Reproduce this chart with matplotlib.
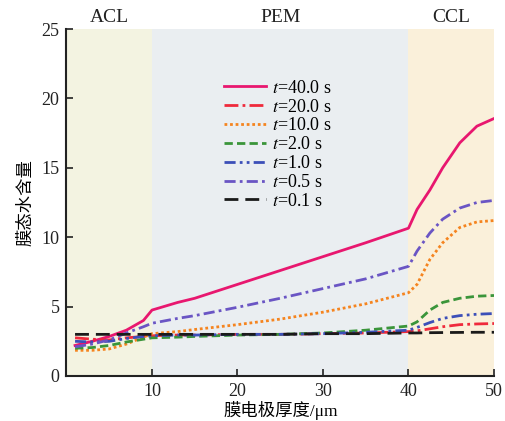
import matplotlib
matplotlib.use("Agg")
import matplotlib.pyplot as plt
import numpy as np

plt.rcParams['font.family'] = ['Liberation Serif', 'Noto Sans CJK SC', 'DejaVu Sans']
plt.rcParams['mathtext.fontset'] = 'stix'

# Data
x = [1, 3, 5, 7, 9, 10, 13, 15, 20, 25, 30, 35, 40, 41, 42.5, 44, 46, 48, 50]
t40 = [2.2, 2.5, 2.85, 3.3, 4.0, 4.75, 5.3, 5.6, 6.6, 7.6, 8.6, 9.6, 10.65, 12.0, 13.4, 15.0, 16.8, 18.0, 18.55]
t20 = [2.75, 2.65, 2.6, 2.75, 2.85, 2.9, 2.95, 2.95, 3.0, 3.0, 3.05, 3.1, 3.2, 3.25, 3.4, 3.55, 3.7, 3.75, 3.78]
t10 = [1.85, 1.85, 1.95, 2.3, 2.8, 3.05, 3.2, 3.35, 3.7, 4.1, 4.6, 5.2, 6.0, 6.6, 8.4, 9.6, 10.7, 11.1, 11.2]
t2 = [2.0, 2.05, 2.2, 2.45, 2.65, 2.75, 2.8, 2.85, 2.95, 3.0, 3.1, 3.3, 3.6, 3.9, 4.75, 5.3, 5.6, 5.75, 5.8]
t1 = [2.5, 2.45, 2.5, 2.7, 2.85, 2.9, 2.95, 2.95, 3.0, 3.0, 3.05, 3.15, 3.3, 3.5, 3.85, 4.15, 4.35, 4.45, 4.5]
t05 = [2.1, 2.3, 2.6, 3.1, 3.55, 3.8, 4.15, 4.35, 4.95, 5.6, 6.3, 7.0, 7.9, 9.0, 10.3, 11.3, 12.1, 12.5, 12.65]
t01 = [3.0, 3.0, 3.0, 3.0, 3.0, 3.0, 3.0, 3.0, 3.0, 3.0, 3.05, 3.05, 3.1, 3.1, 3.12, 3.13, 3.14, 3.15, 3.15]

labels = ['$t$=40.0 s', '$t$=20.0 s', '$t$=10.0 s', '$t$=2.0 s', '$t$=1.0 s', '$t$=0.5 s', '$t$=0.1 s']
series = [t40, t20, t10, t2, t1, t05, t01]
colors = ['#e8176f', '#ef2a3c', '#f5841f', '#3a953a', '#3c4fb8', '#6a55c4', '#1a1a1a']
styles = ['-', (0, (5, 1.5, 1, 1.5)), (0, (1, 1)), (0, (3, 1.5)), (0, (4, 1.5, 1, 1.5, 1, 1.5)),
          (0, (4, 1.5, 1, 1.5)), (0, (5, 2.5))]

regions = ['ACL', 'PEM', 'CCL']
region_bounds = [(0, 10), (10, 40), (40, 50)]
region_colors = ['#f3f3e1', '#eaeef1', '#faf0da']

fig = plt.figure(figsize=(5.06, 4.21), dpi=100)
ax = fig.add_axes([66.5/506, 1 - 376/421, 427.5/506, 347/421])

for (a, b), c, name in zip(region_bounds, region_colors, regions):
    ax.axvspan(a, b, color=c, zorder=0, lw=0)
    ax.text((a + b) / 2, 25.25, name, ha='center', va='bottom', fontsize=14, color='#222222')

for y, lab, c, ls in zip(series, labels, colors, styles):
    ax.plot(x, y, color=c, linestyle=ls, lw=2.0, label=lab)

ax.set_xlim(0, 50)
ax.set_ylim(0, 25)
ax.set_xticks([10, 20, 30, 40, 50])
ax.set_yticks([0, 5, 10, 15, 20, 25])
ax.tick_params(direction='in', length=5, width=1.2, labelsize=13, colors='#222222', pad=5)
for s in ['top', 'right']:
    ax.spines[s].set_visible(False)
for s in ['left', 'bottom']:
    ax.spines[s].set_linewidth(1.5)
    ax.spines[s].set_color('#222222')

ax.set_xlabel('膜电极厚度/μm', fontsize=12.5, labelpad=1)
ax.set_ylabel('膜态水含量', fontsize=12.5, labelpad=5)

leg = ax.legend(loc='upper left', bbox_to_anchor=(0.34, 0.89), frameon=False, fontsize=13,
                handlelength=2.3, handletextpad=0.35, labelspacing=0.1, borderpad=0.2)

fig.savefig('out.png', dpi=100)
